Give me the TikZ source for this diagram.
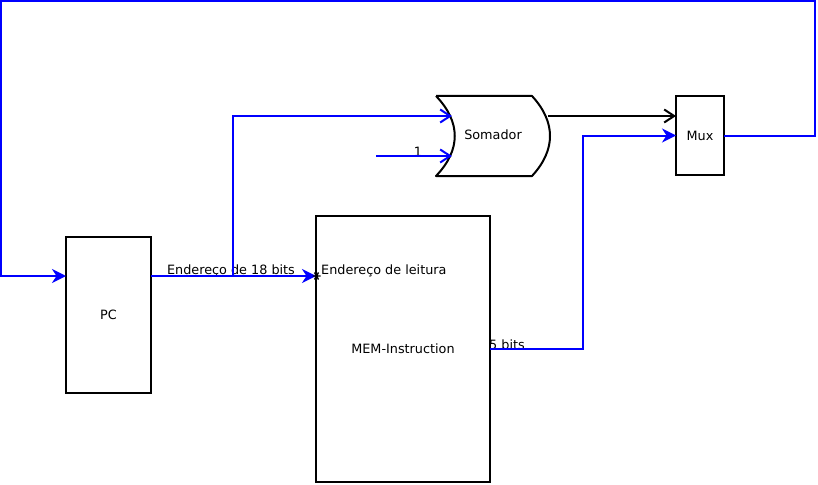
\documentclass[tikz,border=0pt]{standalone}
\usepackage{fontspec}
\setmainfont{DejaVu Sans}
\usetikzlibrary{arrows.meta,shapes.geometric}
\begin{document}
\begin{tikzpicture}[x=1pt,y=-1pt,
  box/.style={draw=black,line width=2pt,rectangle,inner sep=0pt,outer sep=0pt,font=\fontsize{12.8}{14}\selectfont},
  wire/.style={draw=blue,line width=2pt},
  filltip/.style={-{Stealth[length=14pt,width=14pt,inset=4.5pt]}},
  opentip/.style={-{Straight Barb[length=10pt,width=13pt,line width=2pt]}},
  lbl/.style={inner sep=0pt,font=\fontsize{12.8}{14}\selectfont}]
\useasboundingbox (0,0) rectangle (818,484);
% boxes
\node[box,minimum width=85pt,minimum height=156pt] (pc) at (108.5,315) {PC};
\node[box,minimum width=174pt,minimum height=266pt] (mem) at (403,349) {MEM-Instruction};
\node[box,minimum width=48pt,minimum height=79pt] (mux) at (700,135.5) {Mux};
% adder shape
\draw[line width=2pt,line join=round] (436,96) -- (532,96) .. controls (556,122) and (556,150) .. (532,176) -- (436,176) .. controls (461,150) and (461,122) .. (436,96);
\node[lbl] (som) at (493,135) {Somador};
\coordinate (a1) at (452,116);
\coordinate (a2) at (452,156);
\coordinate (aout) at (548,116);
\coordinate (one) at (376,156);
\coordinate (br) at (233,276);
% labels
\node[lbl,anchor=west] (leit) at (321,271) {Endereço de leitura};
\node[lbl,anchor=base] (e18) at (231,274) {Endereço de 18 bits};
\node[lbl] (lone) at (418,152) {1};
\node[lbl,anchor=base west] (b5) at (489,349) {5 bits};
% connectors
\draw[wire,filltip] (pc.east |- br) -- (mem.west |- br);
\draw[wire,opentip] (br) |- (a1);
\draw[wire,opentip] (one) -- (a2);
\draw[line width=2pt,draw=black,opentip] (aout) -- (aout -| mux.west);
\draw[wire,filltip] (mem.east) -- ++(93,0) |- (mux.west);
\draw[wire,filltip] (mux.east) -| (815,1) -| (1,276) -- (pc.west |- br);
% marker
\coordinate (mk) at (316.5,276);
\draw[line width=1.4pt,black] (mk) ++(-4,0) -- ++(8,0)
  (mk) ++(-2,-3.5) -- ++(4,7)
  (mk) ++(2,-3.5) -- ++(-4,7);
\end{tikzpicture}
\end{document}
